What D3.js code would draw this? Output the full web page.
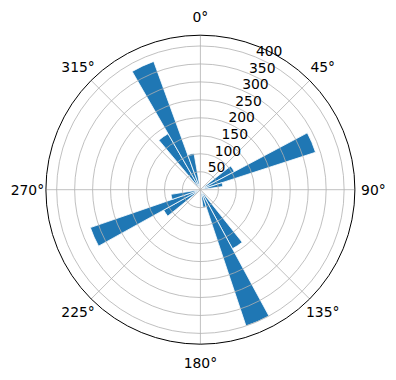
<!DOCTYPE html>
<html>
<head>
<meta charset="utf-8">
<script src="https://cdn.jsdelivr.net/npm/d3@7"></script>
<style>
  body { margin: 0; background: #fff; }
  text { font-family: "DejaVu Sans", sans-serif; font-size: 13.9px; fill: #000; }
</style>
</head>
<body>
<div id="chart"></div>
<script>
// bar directions (degrees, clockwise from north) and their lengths
var angles = [325, 335, 345, 57, 67, 77, 146.5, 156.5, 166.5, 236, 246, 256];
var values = [180, 380, 103, 107, 337, 63, 187, 400, 50, 117, 324, 83];
var barWidth = 10; // degrees
var rTicks = [50, 100, 150, 200, 250, 300, 350, 400];
var thetaTicks = [0, 45, 90, 135, 180, 225, 270, 315];

var W = 396, H = 380;
var cx = 200.4, cy = 189.7, R = 154.5;
var rad = Math.PI / 180;

var svg = d3.select("#chart").append("svg")
  .attr("width", W).attr("height", H);

var g = svg.append("g").attr("transform", "translate(" + cx + "," + cy + ")");

var r = d3.scaleLinear().domain([0, 430]).range([0, R]);

// bars
var arc = d3.arc()
  .innerRadius(0)
  .outerRadius(function(d) { return r(d.v); })
  .startAngle(function(d) { return (d.a - barWidth / 2) * rad; })
  .endAngle(function(d) { return (d.a + barWidth / 2) * rad; });

var bars = angles.map(function(a, i) { return { a: a, v: values[i] }; });

g.selectAll("path.bar").data(bars).enter().append("path")
  .attr("class", "bar")
  .attr("d", arc)
  .attr("fill", "#1f77b4")
  .attr("stroke", "#fff")
  .attr("stroke-width", 0.8);

// grid circles
g.selectAll("circle.grid").data(rTicks).enter().append("circle")
  .attr("r", function(d) { return r(d); })
  .attr("fill", "none")
  .attr("stroke", "#b0b0b0")
  .attr("stroke-width", 0.8);

// angular grid lines
g.selectAll("line.spoke").data(thetaTicks).enter().append("line")
  .attr("x1", 0).attr("y1", 0)
  .attr("x2", function(d) { return R * Math.sin(d * rad); })
  .attr("y2", function(d) { return -R * Math.cos(d * rad); })
  .attr("stroke", "#b0b0b0")
  .attr("stroke-width", 0.8);

// outer frame
g.append("circle")
  .attr("r", R)
  .attr("fill", "none")
  .attr("stroke", "#000")
  .attr("stroke-width", 1);

// angle labels
g.selectAll("text.theta").data(thetaTicks).enter().append("text")
  .attr("x", function(d) { return 173 * Math.sin(d * rad); })
  .attr("y", function(d) { return -173 * Math.cos(d * rad); })
  .attr("text-anchor", "middle")
  .attr("dominant-baseline", "central")
  .text(function(d) { return d + "°"; });

// radial labels at 22.5 degrees
var labAng = 22.5 * rad;
g.selectAll("text.rlab").data(rTicks).enter().append("text")
  .attr("x", function(d) { return r(d) * Math.sin(labAng) + 0.5; })
  .attr("y", function(d) { return -r(d) * Math.cos(labAng) - 1; })
  .attr("text-anchor", "start")
  .text(function(d) { return d; });
</script>
</body>
</html>
